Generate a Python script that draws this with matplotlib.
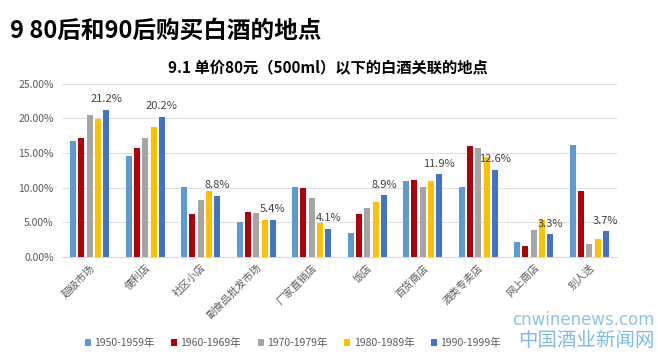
import matplotlib
matplotlib.use("Agg")
import matplotlib.pyplot as plt
import numpy as np

plt.rcParams['font.family'] = ['Noto Sans CJK SC', 'DejaVu Sans']

categories = ['超级市场', '便利店', '社区小店', '副食品批发市场', '厂家直销店',
              '饭店', '百货商店', '酒类专卖店', '网上商店', '别人送']
series_names = ['1950-1959年', '1960-1969年', '1970-1979年', '1980-1989年', '1990-1999年']
s1950 = [16.7, 14.6, 10.1, 5.0, 10.1, 3.5, 10.9, 10.1, 2.1, 16.1]
s1960 = [17.2, 15.7, 6.25, 6.45, 10.0, 6.15, 11.05, 15.95, 1.6, 9.5]
s1970 = [20.5, 17.2, 8.2, 6.3, 8.55, 7.05, 10.1, 15.65, 3.9, 1.9]
s1980 = [19.95, 18.8, 9.5, 5.4, 4.95, 7.95, 10.9, 14.4, 5.3, 2.55]
s1990 = [21.2, 20.2, 8.8, 5.4, 4.1, 8.9, 11.9, 12.6, 3.3, 3.7]
label_texts = ['21.2%', '20.2%', '8.8%', '5.4%', '4.1%', '8.9%', '11.9%', '12.6%', '3.3%', '3.7%']
yticks = [0, 5, 10, 15, 20, 25]
ytick_labels = ['0.00%', '5.00%', '10.00%', '15.00%', '20.00%', '25.00%']

colors = ['#5B9BD5', '#B0000A', '#A5A5A5', '#FFC000', '#4472C4']
all_series = [s1950, s1960, s1970, s1980, s1990]

fig = plt.figure(figsize=(6.58, 3.52), dpi=100)
ax = fig.add_axes([62/658, 1-257/352, 555/658, (257-83.5)/352])

x = np.arange(len(categories))
step = 0.15
width = 0.11
bars_last = None
for i, (vals, c, name) in enumerate(zip(all_series, colors, series_names)):
    b = ax.bar(x + (i - 2) * step, vals, width=width, color=c, label=name, zorder=3)
    bars_last = b

for rect, t in zip(bars_last, label_texts):
    ax.annotate(t, (rect.get_x() + rect.get_width() / 2, rect.get_height()),
                xytext=(0, 4), textcoords='offset points', ha='center', va='bottom',
                fontsize=8, color='#404040', zorder=5)

ax.set_xlim(-0.5, len(categories) - 0.5)
ax.set_ylim(0, 25)
ax.set_yticks(yticks)
ax.set_yticklabels(ytick_labels, fontsize=7.5, color='#595959')
ax.set_xticks(x)
ax.set_xticklabels(categories, rotation=45, ha='right', rotation_mode='anchor',
                   fontsize=7.5, color='#595959')
ax.tick_params(axis='both', length=0, pad=6)
ax.tick_params(axis='x', pad=4)
ax.grid(axis='y', color='#E0E0E0', linewidth=0.8, zorder=0)
for s in ['top', 'right', 'left']:
    ax.spines[s].set_visible(False)
ax.spines['bottom'].set_color('#D9D9D9')

# watermark (drawn before legend so legend sits on top)
fig.text(655/658, 1 - 320/352, 'cnwinenews.com', fontsize=12, color='#8EC3E8',
         ha='right', va='center', family='DejaVu Sans')
fig.text(655/658, 1 - 340/352, '中国酒业新闻网', fontsize=14, color='#6AAEDD', alpha=0.85,
         ha='right', va='center')

leg = fig.legend(loc='center', bbox_to_anchor=(0.445, 1 - 343/352), ncol=5, frameon=False,
                 fontsize=7.5, handlelength=0.6, handleheight=0.6, handletextpad=0.3,
                 columnspacing=1.6, labelcolor='#595959')

fig.text(10/658, 1 - 31/352, '9 80后和90后购买白酒的地点', fontsize=17, fontweight='bold',
         color='black', va='center', ha='left')
fig.text(328/658, 1 - 68/352, '9.1 单价80元（500ml）以下的白酒关联的地点', fontsize=11,
         fontweight='bold', color='black', va='center', ha='center')

fig.savefig('out.png', dpi=100)
